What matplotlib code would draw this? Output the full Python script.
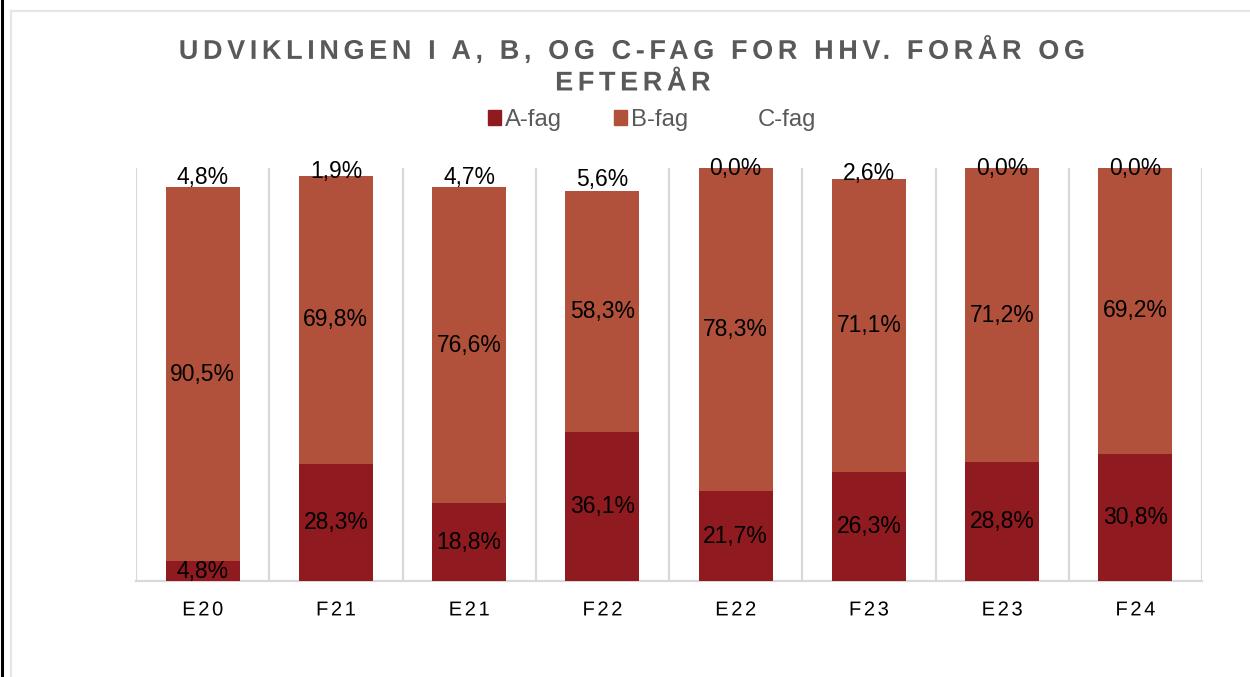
import matplotlib
matplotlib.use("Agg")
import numpy as np
import matplotlib.pyplot as plt
from matplotlib.patches import Rectangle
from matplotlib.lines import Line2D
from matplotlib.path import Path
from matplotlib.patheffects import AbstractPathEffect
from matplotlib.transforms import IdentityTransform

plt.rcParams['font.family'] = ['Liberation Sans', 'DejaVu Sans']

categories = ["E20", "F21", "E21", "F22", "E22", "F23", "E23", "F24"]
a_fag = [4.8, 28.3, 18.8, 36.1, 21.7, 26.3, 28.8, 30.8]
b_fag = [90.5, 69.8, 76.6, 58.3, 78.3, 71.1, 71.2, 69.2]
c_fag = [4.8, 1.9, 4.7, 5.6, 0.0, 2.6, 0.0, 0.0]
series_names = ["A-fag", "B-fag", "C-fag"]
title_text = "UDVIKLINGEN I A, B, OG C-FAG FOR HHV. FORÅR OG\nEFTERÅR"

col_a = "#8F1A1F"
col_b = "#B1513B"
col_c = "#FFFFFF"
grey_txt = "#595959"
grid_col = "#D9D9D9"


class Tracking(AbstractPathEffect):
    """Adds letter spacing (in pixels) to a centred text line."""

    def __init__(self, track_px, space_gap_px):
        super().__init__()
        self.t = track_px
        self.space_gap = space_gap_px

    def draw_path(self, renderer, gc, tpath, affine, rgbFace=None):
        path = affine.transform_path(tpath)
        verts = np.array(path.vertices, dtype=float)
        codes = path.codes
        if codes is None or len(verts) == 0:
            renderer.draw_path(gc, path, IdentityTransform(), rgbFace)
            return
        starts = list(np.where(codes == Path.MOVETO)[0]) + [len(codes)]
        contours = []
        for s, e in zip(starts[:-1], starts[1:]):
            sel = codes[s:e] != Path.CLOSEPOLY
            xs = verts[s:e][sel, 0]
            if len(xs) == 0:
                continue
            contours.append((s, e, xs.min(), xs.max()))
        groups = []
        for c in contours:
            cx = 0.5 * (c[2] + c[3])
            if groups and groups[-1]['xmin'] - 0.5 <= cx <= groups[-1]['xmax'] + 0.5:
                g = groups[-1]
                g['idx'].append(c)
                g['xmin'] = min(g['xmin'], c[2])
                g['xmax'] = max(g['xmax'], c[3])
            else:
                groups.append({'idx': [c], 'xmin': c[2], 'xmax': c[3]})
        offs = []
        cum = 0.0
        for k, g in enumerate(groups):
            if k > 0:
                cum += self.t
                if g['xmin'] - groups[k - 1]['xmax'] > self.space_gap:
                    cum += self.t
            offs.append(cum)
        total = cum
        for g, o in zip(groups, offs):
            for (s, e, _, _) in g['idx']:
                verts[s:e, 0] += o - total / 2.0
        renderer.draw_path(gc, Path(verts, codes), IdentityTransform(), rgbFace)


fig = plt.figure(figsize=(12.5, 6.77), dpi=100)
fig.patch.set_facecolor("white")

# outer decorations
fig.add_artist(Line2D([0.0016, 0.0016], [0, 1], color="black", lw=2.2, transform=fig.transFigure))
fig.add_artist(Line2D([0.0088, 0.0088], [0, 0.984], color="#E6E6E6", lw=1.6, transform=fig.transFigure))
fig.add_artist(Line2D([0.0088, 1.0], [0.984, 0.984], color="#E6E6E6", lw=1.6, transform=fig.transFigure))

ax = fig.add_axes([136/1250, 1-581/677, (1202-136)/1250, (581-168)/677])
x = list(range(len(categories)))
w = 0.556
bottom_b = a_fag
bottom_c = [a + b for a, b in zip(a_fag, b_fag)]

ax.bar(x, a_fag, width=w, color=col_a, zorder=3)
ax.bar(x, b_fag, width=w, bottom=bottom_b, color=col_b, zorder=3)
ax.bar(x, c_fag, width=w, bottom=bottom_c, color=col_c, zorder=3)

def fmt(v):
    return f"{v:.1f}".replace(".", ",") + "%"

lab_fs = 16.5
for i in x:
    ax.text(i, a_fag[i] / 2, fmt(a_fag[i]), ha="center", va="center", fontsize=lab_fs, color="black", zorder=5)
    ax.text(i, a_fag[i] + b_fag[i] / 2, fmt(b_fag[i]), ha="center", va="center", fontsize=lab_fs, color="black", zorder=5)
    ax.text(i, bottom_c[i] + c_fag[i] / 2, fmt(c_fag[i]), ha="center", va="center", fontsize=lab_fs, color="black", zorder=5)

ax.set_xlim(-0.5, len(categories) - 0.5)
ax.set_ylim(0, 100)
for k in range(len(categories) + 1):
    ax.axvline(k - 0.5, color=grid_col, lw=1.6, zorder=1)
for s in ["top", "right", "left"]:
    ax.spines[s].set_visible(False)
ax.spines["bottom"].set_color(grid_col)
ax.spines["bottom"].set_linewidth(1.6)
ax.set_yticks([])
ax.set_xticks(x)
ax.set_xticklabels(categories, fontsize=14.5, color="black")
ax.tick_params(axis="x", length=0, pad=14)
for lbl in ax.get_xticklabels():
    lbl.set_path_effects([Tracking(2.6, 6.0)])

fig.text(633/1250, 1 - 66/677, title_text, ha="center", va="center", fontsize=19.5,
         fontweight="bold", color=grey_txt, linespacing=1.28,
         path_effects=[Tracking(4.6, 6.0)])

handles = [Rectangle((0, 0), 1, 1, color=col_a), Rectangle((0, 0), 1, 1, color=col_b),
           Rectangle((0, 0), 1, 1, color=col_c)]
fig.legend(handles, series_names, loc="center", bbox_to_anchor=(652/1250, 1 - 120/677), ncol=3,
           frameon=False, fontsize=17.2, labelcolor=grey_txt, handlelength=0.54, handleheight=0.54,
           handletextpad=0.17, columnspacing=2.2)

fig.savefig("out.png", dpi=100, facecolor="white")
